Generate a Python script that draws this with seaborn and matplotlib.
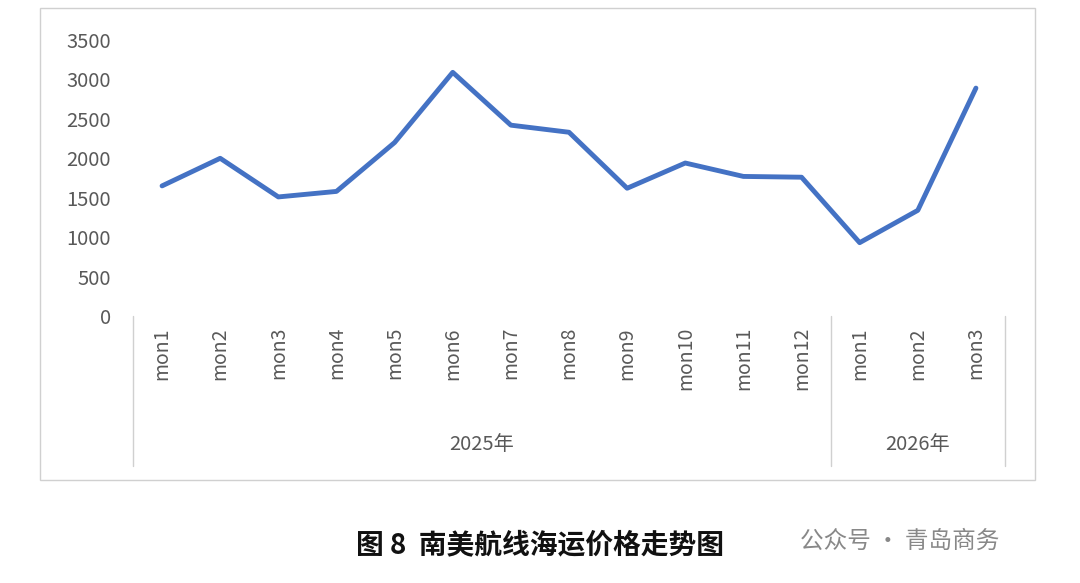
import numpy as np
import pandas as pd
import seaborn as sns
import matplotlib
matplotlib.use("Agg")
from matplotlib import pyplot as plt
from matplotlib.patches import Rectangle

months = ['mon1', 'mon2', 'mon3', 'mon4', 'mon5', 'mon6', 'mon7', 'mon8', 'mon9',
          'mon10', 'mon11', 'mon12', 'mon1', 'mon2', 'mon3']
years = ['2025年'] * 12 + ['2026年'] * 3
prices = [1650, 2000, 1510, 1580, 2200, 3090, 2420, 2330, 1620, 1940, 1770, 1760, 930, 1340, 2890]

sns.set_style("white")
plt.rcParams['font.family'] = ['Noto Sans CJK SC', 'DejaVu Sans']

df = pd.DataFrame({'idx': np.arange(len(months)), 'price': prices})

fig = plt.figure(figsize=(10.8, 5.83), dpi=100)
fig.patches.append(Rectangle((40 / 1080, 1 - 480 / 583), 995 / 1080, 472 / 583,
                             transform=fig.transFigure, fill=False, ec='#d0d0d0', lw=1))
ax = fig.add_axes([133 / 1080, 267 / 583, 872 / 1080, 276 / 583])
sns.lineplot(data=df, x='idx', y='price', ax=ax, color='#4472c4', lw=3.5)
ax.set_xlim(-0.5, len(months) - 0.5)
ax.set_ylim(0, 3500)
ax.set_yticks(range(0, 3501, 500))
ax.set_xticks(df['idx'])
ax.set_xticklabels(months, rotation=90, fontsize=14, color='#595959')
ax.tick_params(axis='y', labelsize=14.5, labelcolor='#595959', length=0, pad=16)
ax.tick_params(axis='x', length=0, pad=8)
ax.set_xlabel('')
ax.set_ylabel('')
for s in ax.spines.values():
    s.set_visible(False)

# category separators
grp = '#d0d0d0'
n = len(months)
for xv in [-0.5, 11.5, n - 0.5]:
    ax.plot([xv, xv], [0, -0.545], transform=ax.get_xaxis_transform(), color=grp, lw=1, clip_on=False)
for name in ['2025年', '2026年']:
    pos = [i for i, y in enumerate(years) if y == name]
    ax.text(np.mean(pos), -0.465, name, transform=ax.get_xaxis_transform(),
            ha='center', va='center', fontsize=14.5, color='#595959')

fig.text(540 / 1080, 1 - 545 / 583, '图 8  南美航线海运价格走势图', ha='center', va='center',
         fontsize=20, fontweight='bold', color='#111111')
fig.text(800 / 1080, 1 - 541 / 583, '公众号 · 青岛商务', ha='left', va='center',
         fontsize=17, color='#888888')

fig.savefig('out.png', dpi=100)
